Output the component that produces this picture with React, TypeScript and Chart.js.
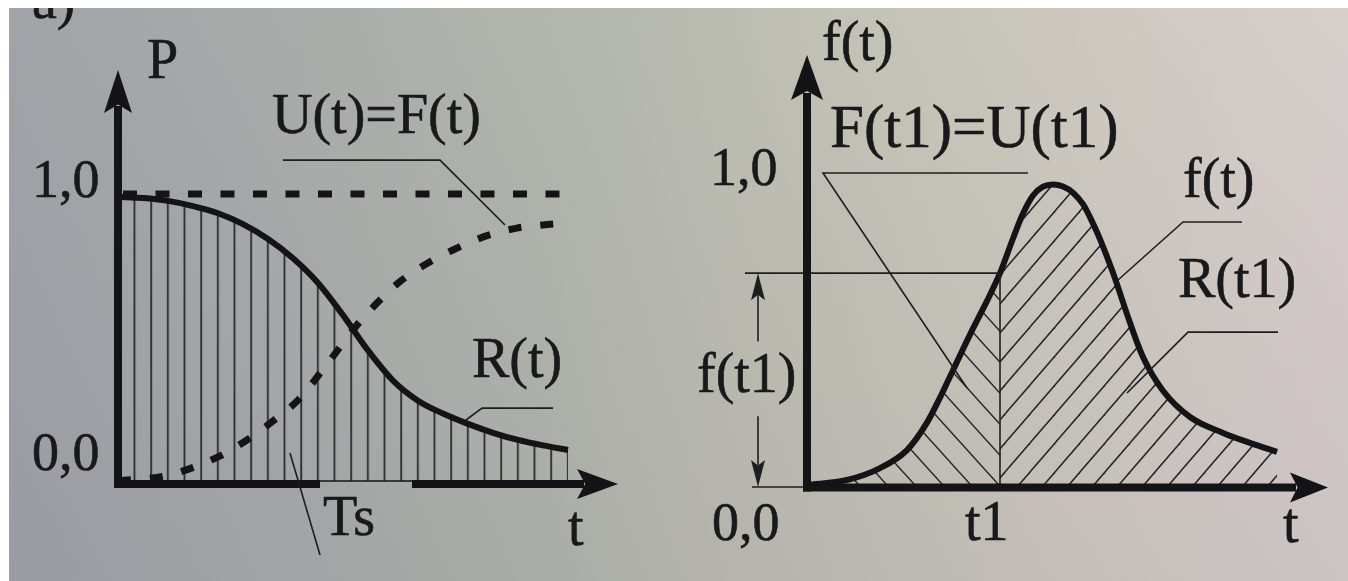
import React, { useEffect, useRef } from "react";
import { Chart, registerables } from "chart.js";

Chart.register(...registerables);

// ---- Left panel: reliability R(t) and unreliability U(t)=F(t) ----
const reliabilityTime = [0, 0.5, 1, 1.5, 2, 2.5, 3, 3.5, 4, 4.5, 5, 5.5, 6, 6.5, 7, 7.5, 8, 8.5, 9];
const reliability = [0.99, 0.986, 0.976, 0.958, 0.933, 0.895, 0.843, 0.776, 0.69, 0.578, 0.455, 0.35, 0.28, 0.235, 0.199, 0.168, 0.143, 0.124, 0.108];
const failureTime = [0, 1, 2, 2.58, 3.1, 3.6, 4.2, 4.74, 5.18, 5.64, 6.18, 6.7, 7.38, 8, 8.74, 8.94];
const failureProb = [0, 0.02, 0.084, 0.143, 0.209, 0.282, 0.411, 0.535, 0.62, 0.695, 0.758, 0.805, 0.855, 0.882, 0.896, 0.899];
const unityTime = [0, 8.94];
const unityLevel = [1, 1];
const leftTickLabels = ["1,0", "0,0"];

// ---- Right panel: failure density f(t) ----
const densityTime = [0, 0.8, 1.46, 2.0, 2.4, 2.66, 2.92, 3.26, 3.6, 3.86, 4.12, 4.32, 4.52, 4.72, 4.92, 5.12, 5.32, 5.52, 5.7, 5.86, 6.12, 6.46, 6.72, 7.12, 7.66, 8.32, 8.86, 9.4];
const density = [0, 0.016, 0.054, 0.112, 0.2, 0.28, 0.368, 0.482, 0.59, 0.679, 0.79, 0.87, 0.928, 0.956, 0.963, 0.957, 0.937, 0.9, 0.845, 0.788, 0.68, 0.52, 0.41, 0.302, 0.218, 0.167, 0.135, 0.106];
const t1 = 3.86;
const rightTickLabels = ["1,0", "0,0"];

const INK = "#141416";
const THIN = "#1e1e20";
const TEXT = "#19191b";
const FAMILY = '"Liberation Serif", "DejaVu Serif", serif';
const PAPER =
  "linear-gradient(180deg, rgba(255,255,255,0.02), rgba(90,70,120,0.07)), " +
  "linear-gradient(90deg, #9ea2a6 0%, #a6aaa8 20%, #b0b4ab 40%, #bcbdb1 55%, #c6c4b8 70%, #cfc9c1 85%, #d5cdca 100%)";

type P = { x: number; y: number };
const zip = (xs: number[], ys: number[]): P[] => xs.map((x, i) => ({ x, y: ys[i] }));

function makePattern(w: number, h: number, draw: (c: CanvasRenderingContext2D) => void, dx: number, dy: number) {
  const cv = document.createElement("canvas");
  cv.width = w;
  cv.height = h;
  const c = cv.getContext("2d")!;
  c.strokeStyle = "#242427";
  c.lineWidth = 1.5;
  draw(c);
  const p = c.createPattern(cv, "repeat")!;
  p.setTransform(new DOMMatrix().translateSelf(dx, dy));
  return p;
}

// vertical hatch, three lines per 50px tile
function verticalHatch(dx: number) {
  return makePattern(50, 10, (c) => {
    c.lineWidth = 1.7;
    for (const x of [25 / 3, 25, 125 / 3]) {
      c.beginPath();
      c.moveTo(x, -1);
      c.lineTo(x, 11);
      c.stroke();
    }
  }, dx, 0);
}

// diagonal hatch; rising = "/" direction
function diagonalHatch(w: number, h: number, rising: boolean) {
  return makePattern(w, h, (c) => {
    const e = 3;
    const ex = (e * w) / h;
    for (const k of [-1, 0, 1]) {
      c.beginPath();
      if (rising) {
        c.moveTo(k * w - ex, h + e);
        c.lineTo(k * w + w + ex, -e);
      } else {
        c.moveTo(k * w - ex, -e);
        c.lineTo(k * w + w + ex, h + e);
      }
      c.stroke();
    }
  }, 0, 0);
}

function strokePath(ctx: CanvasRenderingContext2D, pts: [number, number][]) {
  ctx.beginPath();
  pts.forEach(([x, y], i) => (i ? ctx.lineTo(x, y) : ctx.moveTo(x, y)));
  ctx.stroke();
}

function arrowHead(ctx: CanvasRenderingContext2D, tipX: number, tipY: number, dirX: number, dirY: number, len: number, half: number) {
  const bx = tipX - dirX * len;
  const by = tipY - dirY * len;
  const nx = -dirY;
  const ny = dirX;
  const mx = tipX - dirX * len * 0.8;
  const my = tipY - dirY * len * 0.8;
  ctx.beginPath();
  ctx.moveTo(tipX, tipY);
  ctx.lineTo(bx + nx * half, by + ny * half);
  ctx.lineTo(mx, my);
  ctx.lineTo(bx - nx * half, by - ny * half);
  ctx.closePath();
  ctx.fill();
}

// printed lettering is a little heavier than the plain font
function label(ctx: CanvasRenderingContext2D, text: string, x: number, y: number, size = 56) {
  ctx.font = `${size}px ${FAMILY}`;
  ctx.textAlign = "left";
  ctx.textBaseline = "alphabetic";
  ctx.fillStyle = TEXT;
  ctx.strokeStyle = TEXT;
  ctx.lineWidth = 0.6;
  ctx.lineJoin = "round";
  ctx.fillText(text, x, y);
  ctx.strokeText(text, x, y);
}

function mappers(chart: Chart) {
  const X = (t: number) => chart.scales.x.getPixelForValue(t);
  const Y = (v: number) => chart.scales.y.getPixelForValue(v);
  return { X, Y };
}

const leftDecor = {
  id: "leftDecor",
  afterDatasetsDraw(chart: Chart) {
    const ctx = chart.ctx;
    const { X, Y } = mappers(chart);
    const x0 = X(0);
    const y0 = Y(0);
    ctx.save();
    ctx.fillStyle = INK;
    ctx.strokeStyle = INK;
    ctx.lineCap = "butt";

    // P axis
    ctx.lineWidth = 8;
    const pTop = Y(1.432);
    strokePath(ctx, [[x0, y0 + 7], [x0, pTop + 36]]);
    arrowHead(ctx, x0, pTop, 0, -1, 43, 14);

    // t axis (the print leaves a thin stretch in the middle)
    const axisY = y0 + 3;
    const tEnd = X(10);
    strokePath(ctx, [[x0 - 4, axisY], [X(4.04), axisY]]);
    strokePath(ctx, [[X(5.88), axisY], [tEnd - 34, axisY]]);
    arrowHead(ctx, tEnd, axisY, 1, 0, 41, 15);
    ctx.lineWidth = 1.5;
    strokePath(ctx, [[X(4.04), y0], [X(5.88), y0]]);

    // leader lines
    ctx.strokeStyle = THIN;
    ctx.lineWidth = 1.6;
    strokePath(ctx, [[X(3.3), Y(1.118)], [X(6.44), Y(1.118)], [X(7.74), Y(0.892)]]);
    strokePath(ctx, [[X(8.7), Y(0.254)], [X(7.28), Y(0.254)], [X(6.96), Y(0.2125)]]);
    strokePath(ctx, [[X(3.44), Y(0.0976)], [X(4.04), Y(-0.258)]]);

    // text
    label(ctx, "a)", X(-1.72), Y(1.613));
    label(ctx, "P", X(0.58), Y(1.404));
    label(ctx, leftTickLabels[0], X(-1.72), Y(0.99), 54);
    label(ctx, leftTickLabels[1], X(-1.72), Y(0.038), 54);
    label(ctx, "U(t)=F(t)", X(3.08), Y(1.213));
    label(ctx, "R(t)", X(7.08), Y(0.362));
    label(ctx, "Ts", X(4.1), Y(-0.188));
    label(ctx, "t", X(9.0), Y(-0.223));
    ctx.restore();
  },
};

const rightDecor = {
  id: "rightDecor",
  afterDatasetsDraw(chart: Chart) {
    const ctx = chart.ctx;
    const { X, Y } = mappers(chart);
    const x0 = X(0);
    const y0 = Y(0);
    const f1 = density[densityTime.indexOf(t1)];
    ctx.save();
    ctx.lineCap = "butt";

    // construction lines at t1
    ctx.strokeStyle = THIN;
    ctx.fillStyle = THIN;
    ctx.lineWidth = 1.6;
    strokePath(ctx, [[X(-1.24), Y(f1)], [X(t1), Y(f1)]]);
    strokePath(ctx, [[X(t1), y0], [X(t1), Y(f1)]]);
    strokePath(ctx, [[X(-1.1), y0 + 2], [x0, y0 + 2]]);

    // dimension arrows for f(t1)
    const dimX = X(-0.98);
    strokePath(ctx, [[dimX, Y(f1) + 20], [dimX, Y(0.46)]]);
    arrowHead(ctx, dimX, Y(f1), 0, -1, 27, 7);
    strokePath(ctx, [[dimX, Y(0.22)], [dimX, y0 - 20]]);
    arrowHead(ctx, dimX, y0 + 2, 0, 1, 27, 7);

    // leader lines
    strokePath(ctx, [[X(4.42), Y(1.0)], [X(0.32), Y(1.0)], [X(3.2), Y(0.311)]]);
    strokePath(ctx, [[X(8.7), Y(0.843)], [X(7.52), Y(0.843)], [X(6.22), Y(0.657)]]);
    strokePath(ctx, [[X(9.42), Y(0.49)], [X(7.62), Y(0.49)], [X(6.4), Y(0.295)]]);

    // axes
    ctx.fillStyle = INK;
    ctx.strokeStyle = INK;
    ctx.lineWidth = 8;
    const fTop = Y(1.378);
    strokePath(ctx, [[x0, y0 + 6.5], [x0, fTop + 38]]);
    arrowHead(ctx, x0, fTop, 0, -1, 45, 16);
    const axisY = y0 + 2.5;
    const tEnd = X(10.42);
    strokePath(ctx, [[x0 - 4, axisY], [tEnd - 32, axisY]]);
    arrowHead(ctx, tEnd, axisY, 1, 0, 38, 15);

    // text
    label(ctx, "f(t)", X(0.3), Y(1.362));
    label(ctx, "F(t1)=U(t1)", X(0.46), Y(1.083), 61);
    label(ctx, rightTickLabels[0], X(-1.94), Y(0.962), 54);
    label(ctx, rightTickLabels[1], X(-1.9), Y(-0.176), 54);
    label(ctx, "t1", X(3.16), Y(-0.176));
    label(ctx, "f(t1)", X(-2.2), Y(0.298));
    label(ctx, "f(t)", X(7.52), Y(0.923));
    label(ctx, "R(t1)", X(7.42), Y(0.603));
    label(ctx, "t", X(9.52), Y(-0.183));
    ctx.restore();
  },
};

const baseOptions = (padding: { left: number; right: number; top: number; bottom: number }, xMax: number) => ({
  animation: false as const,
  responsive: false,
  devicePixelRatio: 1,
  events: [] as any[],
  layout: { padding },
  scales: {
    x: { type: "linear" as const, min: 0, max: xMax, display: false },
    y: { type: "linear" as const, min: 0, max: 1, display: false },
  },
  plugins: { legend: { display: false }, tooltip: { enabled: false } },
  elements: { point: { radius: 0 } },
});

export default function App() {
  const leftRef = useRef<HTMLCanvasElement>(null);
  const rightRef = useRef<HTMLCanvasElement>(null);

  useEffect(() => {
    const left = new Chart(leftRef.current!, {
      type: "line",
      data: {
        datasets: [
          {
            data: zip(unityTime, unityLevel),
            borderColor: INK,
            borderWidth: 7,
            borderDash: [14, 18.5],
            borderDashOffset: 27.5,
            borderCapStyle: "butt",
            fill: false,
            clip: false,
            order: 1,
          },
          {
            data: zip(failureTime, failureProb),
            borderColor: INK,
            borderWidth: 7,
            borderDash: [13, 19],
            borderCapStyle: "butt",
            cubicInterpolationMode: "monotone",
            fill: false,
            clip: false,
            order: 1,
          },
          {
            data: zip(reliabilityTime, reliability),
            borderColor: INK,
            borderWidth: 6,
            cubicInterpolationMode: "monotone",
            fill: "origin",
            backgroundColor: verticalHatch(117.17),
            clip: false,
            order: 2,
          },
        ],
      },
      options: baseOptions({ left: 109, right: 62, top: 186, bottom: 100 }, 10) as any,
      plugins: [leftDecor],
    });

    const pts = zip(densityTime, density);
    const before = pts.filter((p) => p.x <= t1);
    const after = pts.filter((p) => p.x >= t1);
    const right = new Chart(rightRef.current!, {
      type: "line",
      data: {
        datasets: [
          {
            data: before,
            borderColor: "transparent",
            borderWidth: 0,
            cubicInterpolationMode: "monotone",
            fill: "origin",
            backgroundColor: diagonalHatch(28, 31, false),
            clip: false,
            order: 3,
          },
          {
            data: after,
            borderColor: "transparent",
            borderWidth: 0,
            cubicInterpolationMode: "monotone",
            fill: "origin",
            backgroundColor: diagonalHatch(25, 29, true),
            clip: false,
            order: 3,
          },
          {
            data: pts,
            borderColor: INK,
            borderWidth: 6,
            cubicInterpolationMode: "monotone",
            fill: false,
            clip: false,
            order: 1,
          },
        ],
      },
      options: baseOptions({ left: 127, right: 21, top: 165, bottom: 96 }, 10.4) as any,
      plugins: [rightDecor],
    });

    return () => {
      left.destroy();
      right.destroy();
    };
  }, []);

  return (
    <div style={{ position: "fixed", left: 0, top: 0, width: 1348, height: 581, background: "#ffffff", overflow: "hidden" }}>
      <div style={{ position: "absolute", left: 9, top: 8, width: 1339, height: 573, background: PAPER, overflow: "hidden" }}>
        <canvas ref={leftRef} width={671} height={573} style={{ position: "absolute", left: 0, top: 0 }} />
        <canvas ref={rightRef} width={668} height={573} style={{ position: "absolute", left: 671, top: 0 }} />
      </div>
    </div>
  );
}
